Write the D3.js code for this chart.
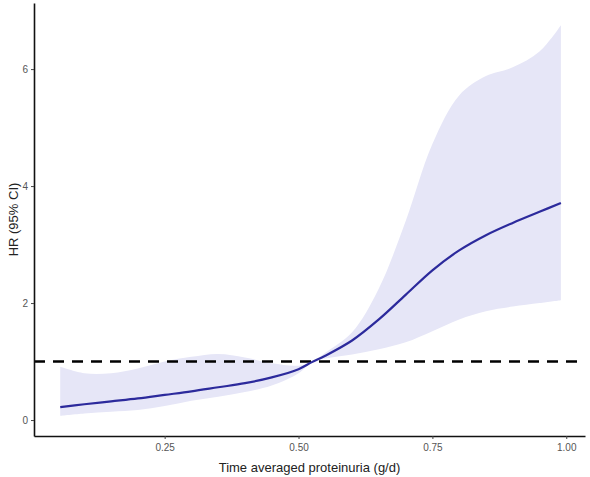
<!DOCTYPE html>
<html>
<head>
<meta charset="utf-8">
<script src="https://cdn.jsdelivr.net/npm/d3@7"></script>
<style>
  body { margin: 0; background: #fff; }
  text { font-family: "Liberation Sans", Arial, sans-serif; }
</style>
</head>
<body>
<div id="chart"></div>
<script>
// spline estimate
var proteinuria = [0.055, 0.10, 0.15, 0.20, 0.25, 0.30, 0.35, 0.40, 0.45, 0.50, 0.525, 0.55, 0.60, 0.65, 0.70, 0.75, 0.80, 0.85, 0.90, 0.95, 0.99];
var hr      = [0.22, 0.27, 0.32, 0.37, 0.43, 0.49, 0.56, 0.63, 0.73, 0.87, 0.99, 1.10, 1.36, 1.72, 2.14, 2.56, 2.90, 3.16, 3.37, 3.56, 3.71];
var ciUpper = [0.91, 0.80, 0.80, 0.88, 1.00, 1.08, 1.13, 1.07, 0.97, 0.93, 0.99, 1.15, 1.50, 2.25, 3.40, 4.72, 5.55, 5.88, 6.03, 6.30, 6.75];
var ciLower = [0.07, 0.11, 0.14, 0.17, 0.24, 0.33, 0.40, 0.48, 0.59, 0.80, 0.99, 1.05, 1.12, 1.21, 1.33, 1.52, 1.72, 1.86, 1.94, 2.00, 2.05];
var xTicks = [0.25, 0.50, 0.75, 1.00];
var yTicks = [0, 2, 4, 6];
var refLine = 1;

var width = 590;
var height = 477;
var margin = {top: 3, right: 5, bottom: 41, left: 34};

var rows = proteinuria.map(function (d, i) {
  return {x: d, hr: hr[i], lo: ciLower[i], hi: ciUpper[i]};
});

var x = d3.scaleLinear()
  .domain([0.006, 1.035])
  .range([margin.left, width - margin.right]);
var y = d3.scaleLinear()
  .domain([-0.273, 7.13])
  .range([height - margin.bottom, margin.top]);

var svg = d3.select("#chart")
  .append("svg")
  .attr("width", width)
  .attr("height", height);

// confidence band
var band = d3.area()
  .x(d => x(d.x))
  .y0(d => y(d.lo))
  .y1(d => y(d.hi))
  .curve(d3.curveCatmullRom.alpha(0.5));

svg.append("path")
  .datum(rows)
  .attr("d", band)
  .attr("fill", "#e6e6f7");

// reference at HR = 1
svg.append("line")
  .attr("x1", x.range()[0])
  .attr("x2", x.range()[1])
  .attr("y1", y(refLine))
  .attr("y2", y(refLine))
  .attr("stroke", "#000")
  .attr("stroke-width", 2.6)
  .attr("stroke-dasharray", "11,8");

var line = d3.line()
  .x(d => x(d.x))
  .y(d => y(d.hr))
  .curve(d3.curveCatmullRom.alpha(0.5));

svg.append("path")
  .datum(rows)
  .attr("d", line)
  .attr("fill", "none")
  .attr("stroke", "#2c2a9c")
  .attr("stroke-width", 2.2);

// axes
var xAxis = svg.append("g")
  .attr("transform", "translate(0," + (height - margin.bottom) + ")")
  .call(d3.axisBottom(x).tickValues(xTicks).tickFormat(d3.format(".2f")).tickSize(3).tickSizeOuter(0));
var yAxis = svg.append("g")
  .attr("transform", "translate(" + margin.left + ",0)")
  .call(d3.axisLeft(y).tickValues(yTicks).tickFormat(d3.format("d")).tickSize(3).tickSizeOuter(0));

[xAxis, yAxis].forEach(function (a) {
  a.select(".domain").attr("stroke", "#111").attr("stroke-width", 1.6);
  a.selectAll(".tick line").attr("stroke", "#444");
  a.selectAll(".tick text")
    .attr("fill", "#555")
    .style("font-size", "10px")
    .style("font-family", "'Liberation Sans', Arial, sans-serif");
});
xAxis.selectAll(".tick text").attr("dy", "0.71em").attr("y", 8);
yAxis.selectAll(".tick text").attr("x", -6);

svg.append("text")
  .attr("x", (margin.left + width - margin.right) / 2)
  .attr("y", height - 5)
  .attr("text-anchor", "middle")
  .style("font-size", "13px")
  .attr("fill", "#222")
  .text("Time averaged proteinuria (g/d)");

svg.append("text")
  .attr("transform", "translate(18," + ((margin.top + height - margin.bottom) / 2) + ") rotate(-90)")
  .attr("text-anchor", "middle")
  .style("font-size", "13px")
  .attr("fill", "#222")
  .text("HR (95% CI)");
</script>
</body>
</html>
